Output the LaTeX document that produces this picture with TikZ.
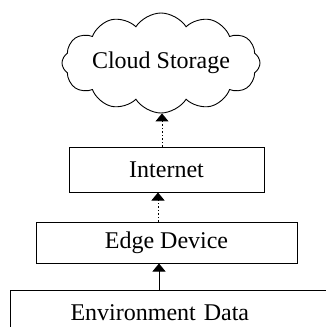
\documentclass[tikz,border=0pt]{standalone}
\usepackage{fontspec}
\setmainfont{Liberation Serif}
\usetikzlibrary{positioning}
\usetikzlibrary{shapes.symbols}
\usetikzlibrary{arrows.meta}

\begin{document}
\begin{tikzpicture}[
    x = 1pt, y = 1pt,
    every node/.style = {font=\fontsize{24}{28}\selectfont},
      box/.style = {draw, line width=1pt, inner sep=0pt},
      flow/.style = {line width=1pt, -{Triangle[width=13pt,length=8pt]}},
      dots/.style = {dash pattern=on 1.5pt off 2pt}
    ]
    \useasboundingbox (0,0) rectangle (325,-327);
    \node[draw, cloud, cloud puffs=12, cloud puff arc=115, cloud ignores aspect,
          line width=0.9pt, minimum width=198pt, minimum height=100pt, inner sep=0pt]
          (cloud) at (161,-63) {Cloud Storage};
    \node[box, minimum width=195pt, minimum height=45pt] (net) at (166.5,-169.5) {Internet};
    \node[box, minimum width=261pt, minimum height=41pt] (edge) at (166.5,-242.5) {Edge Device};
    \node[box, anchor=north west, minimum height=44pt, text width=210pt, align=left,
          inner xsep=60pt] (env) at (10,-290) {Environment Data};
    \draw[flow, dots] ([xshift=-4.5pt]net.north) -- ([xshift=-4.5pt]net.north |- cloud.south);
    \draw[flow, dots] ([xshift=-8.5pt]edge.north) -- ([xshift=-8.5pt]net.south);
    \draw[flow] ([xshift=-7.5pt]edge.south |- env.north) -- ([xshift=-7.5pt]edge.south);
\end{tikzpicture}
\end{document}
